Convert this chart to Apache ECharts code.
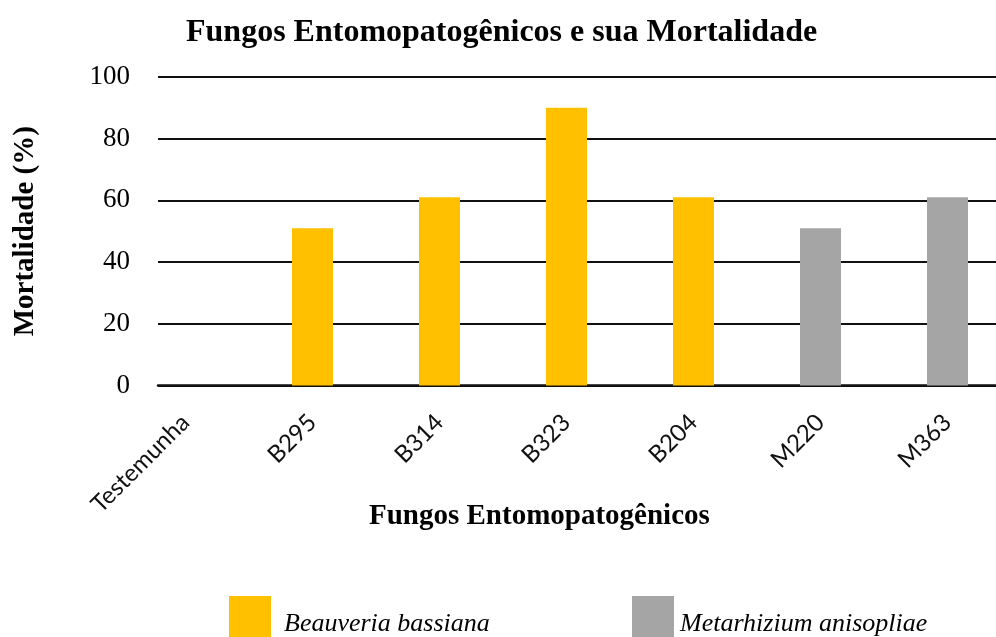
<!DOCTYPE html>
<html>
<head>
<meta charset="utf-8">
<script src="https://cdn.jsdelivr.net/npm/echarts@6/dist/echarts.min.js"></script>
<style>
html,body{margin:0;padding:0;background:#fff;}
#chart{width:996px;height:637px;}
</style>
</head>
<body>
<div id="chart"></div>
<script>
// ---- data ----
const categories = ['Testemunha', 'B295', 'B314', 'B323', 'B204', 'M220', 'M363'];
const beauveria = [null, 51, 61, 90, 61, null, null];     // Beauveria bassiana (%)
const metarhizium = [null, null, null, null, null, 51, 61]; // Metarhizium anisopliae (%)
const yTicks = [0, 20, 40, 60, 80, 100];
const seriesNames = ['Beauveria bassiana', 'Metarhizium anisopliae'];

const toPairs = arr => arr.map((v, i) => [i, v]);
const serif = 'Liberation Serif, Times New Roman, serif';

const legendText = (padLeft) => ({
  fontFamily: serif, fontStyle: 'italic', fontSize: 26, color: '#000',
  rich: {t: {fontFamily: serif, fontStyle: 'italic', fontSize: 26, color: '#000', padding: [14, 0, 0, padLeft]}}
});

const chart = echarts.init(document.getElementById('chart'), null, {renderer: 'canvas'});
chart.setOption({
  backgroundColor: '#fff',
  animation: false,
  title: [
    {
      text: 'Fungos Entomopatogênicos e sua Mortalidade',
      left: 186, top: 17, padding: 0,
      textStyle: {fontFamily: serif, fontWeight: 'bold', fontSize: 32, color: '#000'}
    },
    {
      text: 'Fungos Entomopatogênicos',
      left: 369, top: 502, padding: 0,
      textStyle: {fontFamily: serif, fontWeight: 'bold', fontSize: 29, color: '#000'}
    }
  ],
  legend: [
    {
      data: [seriesNames[0]], left: 229, top: 596, padding: 0,
      icon: 'rect', itemWidth: 42, itemHeight: 42,
      formatter: n => '{t|' + n + '}',
      textStyle: legendText(8)
    },
    {
      data: [seriesNames[1]], left: 632, top: 596, padding: 0,
      icon: 'rect', itemWidth: 42, itemHeight: 42,
      formatter: n => '{t|' + n + '}',
      textStyle: legendText(1)
    }
  ],
  grid: {left: 158, right: 0, top: 77, height: 308.5, containLabel: false},
  xAxis: {
    type: 'value',
    min: -0.2165, max: 6.382,
    axisLine: {show: true, onZero: false, lineStyle: {color: '#111', width: 2.5}},
    axisTick: {show: false},
    splitLine: {show: false},
    axisLabel: {
      customValues: categories.map((c, i) => i),
      formatter: v => categories[Math.round(v)],
      rotate: 45, margin: 33,
      fontFamily: 'Lato, Carlito, Calibri, sans-serif', fontSize: 24, color: '#111'
    }
  },
  yAxis: {
    type: 'value', min: 0, max: 100, interval: 20,
    name: 'Mortalidade (%)', nameLocation: 'middle', nameGap: 118,
    nameTextStyle: {fontFamily: serif, fontWeight: 'bold', fontSize: 29, color: '#000'},
    axisLine: {show: false}, axisTick: {show: false},
    axisLabel: {margin: 28, fontFamily: serif, fontSize: 27, color: '#000',
      formatter: v => yTicks.includes(v) ? String(v) : ''},
    splitLine: {show: true, lineStyle: {color: '#111', width: 2}}
  },
  series: [
    {name: seriesNames[0], type: 'bar', data: toPairs(beauveria), barWidth: 41, barGap: '-100%',
     itemStyle: {color: '#FFC000'}},
    {name: seriesNames[1], type: 'bar', data: toPairs(metarhizium), barWidth: 41, barGap: '-100%',
     itemStyle: {color: '#A5A5A5'}}
  ]
});
</script>
</body>
</html>
